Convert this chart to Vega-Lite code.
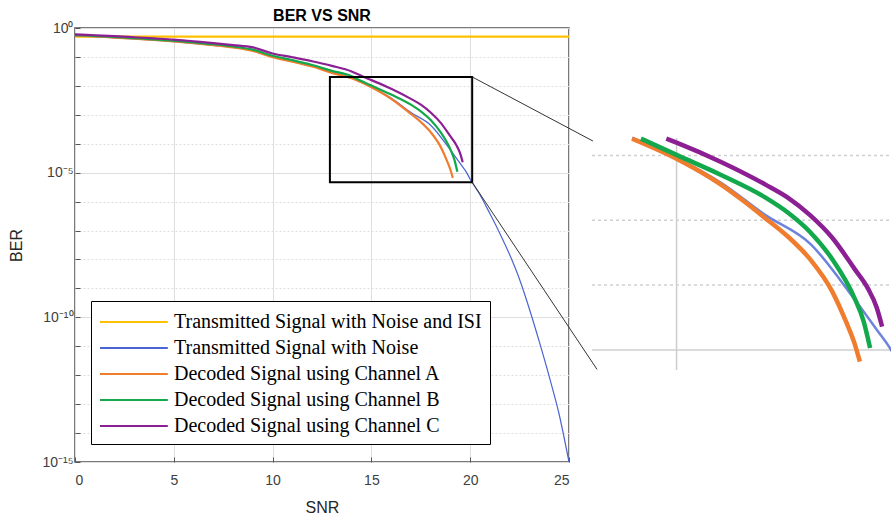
{
  "$schema": "https://vega.github.io/schema/vega-lite/v6.json",
  "autosize": "none",
  "width": 494,
  "height": 434,
  "padding": {"left": 75, "top": 28, "right": 322, "bottom": 56},
  "background": "white",
  "title": {"text": "BER VS SNR", "font": "Liberation Sans", "fontSize": 16, "fontWeight": "bold", "color": "#000000", "anchor": "middle", "frame": "group", "offset": -3},
  "config": {"view": {"stroke": "#4d4d4d", "strokeWidth": 1.5}},
  "datasets": {
    "curves": [
      {"snr": 0, "ber": 0.5, "series": "Transmitted Signal with Noise and ISI"},
      {"snr": 25, "ber": 0.5, "series": "Transmitted Signal with Noise and ISI"},
      {"snr": 0, "ber": 0.537, "series": "Transmitted Signal with Noise"},
      {"snr": 1, "ber": 0.501, "series": "Transmitted Signal with Noise"},
      {"snr": 2, "ber": 0.457, "series": "Transmitted Signal with Noise"},
      {"snr": 3, "ber": 0.417, "series": "Transmitted Signal with Noise"},
      {"snr": 4, "ber": 0.38, "series": "Transmitted Signal with Noise"},
      {"snr": 5, "ber": 0.339, "series": "Transmitted Signal with Noise"},
      {"snr": 6, "ber": 0.295, "series": "Transmitted Signal with Noise"},
      {"snr": 7, "ber": 0.251, "series": "Transmitted Signal with Noise"},
      {"snr": 8, "ber": 0.214, "series": "Transmitted Signal with Noise"},
      {"snr": 9, "ber": 0.166, "series": "Transmitted Signal with Noise"},
      {"snr": 10, "ber": 0.1, "series": "Transmitted Signal with Noise"},
      {"snr": 11, "ber": 0.0708, "series": "Transmitted Signal with Noise"},
      {"snr": 12, "ber": 0.049, "series": "Transmitted Signal with Noise"},
      {"snr": 13, "ber": 0.0309, "series": "Transmitted Signal with Noise"},
      {"snr": 14, "ber": 0.0186, "series": "Transmitted Signal with Noise"},
      {"snr": 15, "ber": 0.00912, "series": "Transmitted Signal with Noise"},
      {"snr": 16, "ber": 0.0038, "series": "Transmitted Signal with Noise"},
      {"snr": 17, "ber": 0.0012, "series": "Transmitted Signal with Noise"},
      {"snr": 18, "ber": 0.000437, "series": "Transmitted Signal with Noise"},
      {"snr": 19, "ber": 6.03e-5, "series": "Transmitted Signal with Noise"},
      {"snr": 19.5, "ber": 2.04e-5, "series": "Transmitted Signal with Noise"},
      {"snr": 19.82, "ber": 1e-5, "series": "Transmitted Signal with Noise"},
      {"snr": 20, "ber": 5.89e-6, "series": "Transmitted Signal with Noise"},
      {"snr": 20.5, "ber": 1.7e-6, "series": "Transmitted Signal with Noise"},
      {"snr": 21, "ber": 3.8e-7, "series": "Transmitted Signal with Noise"},
      {"snr": 21.5, "ber": 7.94e-8, "series": "Transmitted Signal with Noise"},
      {"snr": 22, "ber": 1.45e-8, "series": "Transmitted Signal with Noise"},
      {"snr": 22.5, "ber": 2.04e-9, "series": "Transmitted Signal with Noise"},
      {"snr": 23, "ber": 1.91e-10, "series": "Transmitted Signal with Noise"},
      {"snr": 23.5, "ber": 1.41e-11, "series": "Transmitted Signal with Noise"},
      {"snr": 24, "ber": 8.91e-13, "series": "Transmitted Signal with Noise"},
      {"snr": 24.5, "ber": 4.47e-14, "series": "Transmitted Signal with Noise"},
      {"snr": 25, "ber": 1e-15, "series": "Transmitted Signal with Noise"},
      {"snr": 0, "ber": 0.55, "series": "Decoded Signal using Channel A"},
      {"snr": 1, "ber": 0.513, "series": "Decoded Signal using Channel A"},
      {"snr": 2, "ber": 0.468, "series": "Decoded Signal using Channel A"},
      {"snr": 3, "ber": 0.427, "series": "Decoded Signal using Channel A"},
      {"snr": 4, "ber": 0.389, "series": "Decoded Signal using Channel A"},
      {"snr": 5, "ber": 0.347, "series": "Decoded Signal using Channel A"},
      {"snr": 6, "ber": 0.302, "series": "Decoded Signal using Channel A"},
      {"snr": 7, "ber": 0.257, "series": "Decoded Signal using Channel A"},
      {"snr": 8, "ber": 0.214, "series": "Decoded Signal using Channel A"},
      {"snr": 9, "ber": 0.162, "series": "Decoded Signal using Channel A"},
      {"snr": 10, "ber": 0.0977, "series": "Decoded Signal using Channel A"},
      {"snr": 11, "ber": 0.0692, "series": "Decoded Signal using Channel A"},
      {"snr": 12, "ber": 0.0468, "series": "Decoded Signal using Channel A"},
      {"snr": 13, "ber": 0.0282, "series": "Decoded Signal using Channel A"},
      {"snr": 14, "ber": 0.0182, "series": "Decoded Signal using Channel A"},
      {"snr": 15, "ber": 0.00891, "series": "Decoded Signal using Channel A"},
      {"snr": 16, "ber": 0.00355, "series": "Decoded Signal using Channel A"},
      {"snr": 16.5, "ber": 0.002, "series": "Decoded Signal using Channel A"},
      {"snr": 17, "ber": 0.00107, "series": "Decoded Signal using Channel A"},
      {"snr": 17.5, "ber": 0.000562, "series": "Decoded Signal using Channel A"},
      {"snr": 18, "ber": 0.000251, "series": "Decoded Signal using Channel A"},
      {"snr": 18.5, "ber": 7.94e-5, "series": "Decoded Signal using Channel A"},
      {"snr": 18.8, "ber": 2.82e-5, "series": "Decoded Signal using Channel A"},
      {"snr": 19, "ber": 1.26e-5, "series": "Decoded Signal using Channel A"},
      {"snr": 19.12, "ber": 6.61e-6, "series": "Decoded Signal using Channel A"},
      {"snr": 0, "ber": 0.575, "series": "Decoded Signal using Channel B"},
      {"snr": 1, "ber": 0.537, "series": "Decoded Signal using Channel B"},
      {"snr": 2, "ber": 0.49, "series": "Decoded Signal using Channel B"},
      {"snr": 3, "ber": 0.447, "series": "Decoded Signal using Channel B"},
      {"snr": 4, "ber": 0.407, "series": "Decoded Signal using Channel B"},
      {"snr": 5, "ber": 0.363, "series": "Decoded Signal using Channel B"},
      {"snr": 6, "ber": 0.316, "series": "Decoded Signal using Channel B"},
      {"snr": 7, "ber": 0.275, "series": "Decoded Signal using Channel B"},
      {"snr": 8, "ber": 0.229, "series": "Decoded Signal using Channel B"},
      {"snr": 9, "ber": 0.178, "series": "Decoded Signal using Channel B"},
      {"snr": 10, "ber": 0.11, "series": "Decoded Signal using Channel B"},
      {"snr": 11, "ber": 0.0776, "series": "Decoded Signal using Channel B"},
      {"snr": 12, "ber": 0.0525, "series": "Decoded Signal using Channel B"},
      {"snr": 13, "ber": 0.0331, "series": "Decoded Signal using Channel B"},
      {"snr": 14, "ber": 0.0214, "series": "Decoded Signal using Channel B"},
      {"snr": 14.2, "ber": 0.0182, "series": "Decoded Signal using Channel B"},
      {"snr": 15, "ber": 0.0102, "series": "Decoded Signal using Channel B"},
      {"snr": 16, "ber": 0.00501, "series": "Decoded Signal using Channel B"},
      {"snr": 17, "ber": 0.00224, "series": "Decoded Signal using Channel B"},
      {"snr": 17.5, "ber": 0.00132, "series": "Decoded Signal using Channel B"},
      {"snr": 18, "ber": 0.000661, "series": "Decoded Signal using Channel B"},
      {"snr": 18.5, "ber": 0.000251, "series": "Decoded Signal using Channel B"},
      {"snr": 19, "ber": 6.31e-5, "series": "Decoded Signal using Channel B"},
      {"snr": 19.2, "ber": 2.82e-5, "series": "Decoded Signal using Channel B"},
      {"snr": 19.35, "ber": 1.07e-5, "series": "Decoded Signal using Channel B"},
      {"snr": 0, "ber": 0.603, "series": "Decoded Signal using Channel C"},
      {"snr": 1, "ber": 0.562, "series": "Decoded Signal using Channel C"},
      {"snr": 2, "ber": 0.525, "series": "Decoded Signal using Channel C"},
      {"snr": 3, "ber": 0.479, "series": "Decoded Signal using Channel C"},
      {"snr": 4, "ber": 0.437, "series": "Decoded Signal using Channel C"},
      {"snr": 5, "ber": 0.398, "series": "Decoded Signal using Channel C"},
      {"snr": 6, "ber": 0.347, "series": "Decoded Signal using Channel C"},
      {"snr": 7, "ber": 0.302, "series": "Decoded Signal using Channel C"},
      {"snr": 8, "ber": 0.257, "series": "Decoded Signal using Channel C"},
      {"snr": 9, "ber": 0.214, "series": "Decoded Signal using Channel C"},
      {"snr": 10, "ber": 0.132, "series": "Decoded Signal using Channel C"},
      {"snr": 11, "ber": 0.0977, "series": "Decoded Signal using Channel C"},
      {"snr": 12, "ber": 0.0708, "series": "Decoded Signal using Channel C"},
      {"snr": 13, "ber": 0.049, "series": "Decoded Signal using Channel C"},
      {"snr": 14, "ber": 0.0316, "series": "Decoded Signal using Channel C"},
      {"snr": 14.77, "ber": 0.0182, "series": "Decoded Signal using Channel C"},
      {"snr": 15, "ber": 0.0158, "series": "Decoded Signal using Channel C"},
      {"snr": 16, "ber": 0.00794, "series": "Decoded Signal using Channel C"},
      {"snr": 17, "ber": 0.00355, "series": "Decoded Signal using Channel C"},
      {"snr": 17.5, "ber": 0.00224, "series": "Decoded Signal using Channel C"},
      {"snr": 18, "ber": 0.0012, "series": "Decoded Signal using Channel C"},
      {"snr": 18.5, "ber": 0.000537, "series": "Decoded Signal using Channel C"},
      {"snr": 19, "ber": 0.000178, "series": "Decoded Signal using Channel C"},
      {"snr": 19.3, "ber": 8.91e-5, "series": "Decoded Signal using Channel C"},
      {"snr": 19.5, "ber": 4.47e-5, "series": "Decoded Signal using Channel C"},
      {"snr": 19.62, "ber": 2.29e-5, "series": "Decoded Signal using Channel C"}
    ],
    "box": [{"snr": 12.9, "snr2": 20.1, "ber": 0.0204, "ber2": 4.68e-6}],
    "connectors": [
      {"snr": 20.1, "ber": 0.0204, "snr2": 26.21, "ber2": 1.24e-4},
      {"snr": 20.1, "ber": 4.68e-6, "snr2": 26.42, "ber2": 1.58e-12}
    ],
    "insetV": [{"snr": 15}],
    "insetH": [{"ber": 0.01}, {"ber": 0.001}, {"ber": 0.0001}, {"ber": 1e-5}]
  },
  "layer": [
    {
      "layer": [
        {
          "data": {"name": "curves"},
          "mark": {"type": "line", "interpolate": "monotone"},
          "encoding": {
            "x": {"field": "snr", "type": "quantitative",
              "scale": {"domain": [0, 25], "zero": false},
              "axis": {"values": [0, 5, 10, 15, 20, 25], "grid": true, "gridColor": "#dedede", "domain": false, "tickSize": -5, "tickColor": "#555555", "labelFont": "Liberation Sans", "labelFontSize": 14, "labelColor": "#404040", "labelPadding": 16, "title": "SNR", "titleFont": "Liberation Sans", "titleFontSize": 16, "titleFontWeight": "normal", "titleColor": "#262626", "titlePadding": 12}},
            "y": {"field": "ber", "type": "quantitative",
              "scale": {"type": "log", "domain": [1e-15, 1]},
              "axis": {"values": [1, 0.1, 0.01, 0.001, 0.0001, 1e-5, 1e-6, 1e-7, 1e-8, 1e-9, 1e-10, 1e-11, 1e-12, 1e-13, 1e-14, 1e-15],
                "labelExpr": "round(log(datum.value)/LN10) == 0 ? '10⁰' : round(log(datum.value)/LN10) == -5 ? '10⁻⁵' : round(log(datum.value)/LN10) == -10 ? '10⁻¹⁰' : round(log(datum.value)/LN10) == -15 ? '10⁻¹⁵' : ''",
                "grid": true, "gridColor": "#dedede",
                "gridDash": {"condition": {"test": "round(log(datum.value)/LN10) % 5 == 0", "value": []}, "value": [2, 2]},
                "domain": false, "tickSize": -5, "tickColor": "#555555", "labelFont": "Liberation Sans", "labelFontSize": 14, "labelColor": "#404040", "labelPadding": 7, "title": "BER", "titleFont": "Liberation Sans", "titleFontSize": 16, "titleFontWeight": "normal", "titleColor": "#262626", "titlePadding": 17}},
            "color": {"field": "series", "type": "nominal",
              "scale": {"domain": ["Transmitted Signal with Noise and ISI", "Transmitted Signal with Noise", "Decoded Signal using Channel A", "Decoded Signal using Channel B", "Decoded Signal using Channel C"],
                "range": ["#FFC000", "#4A64D2", "#F07C2E", "#12A84B", "#8B1F93"]},
              "legend": {"orient": "none", "legendX": 16, "legendY": 273, "title": null, "symbolType": "M-1,0H4.65", "symbolSize": 576, "symbolStrokeWidth": 2, "labelFont": "Liberation Serif", "labelFontSize": 20, "labelColor": "#000000", "labelOffset": 49, "labelLimit": 0, "padding": 8, "rowPadding": 3, "strokeColor": "#000000", "fillColor": "#ffffff"}},
            "strokeWidth": {"condition": {"test": "datum.series === 'Transmitted Signal with Noise'", "value": 1.2}, "value": 2.2}
          }
        },
        {
          "data": {"name": "box"},
          "mark": {"type": "rect", "fill": null, "fillOpacity": 0, "stroke": "#000000", "strokeWidth": 2},
          "encoding": {
            "x": {"field": "snr", "type": "quantitative", "scale": {"domain": [0, 25], "zero": false}},
            "x2": {"field": "snr2"},
            "y": {"field": "ber", "type": "quantitative", "scale": {"type": "log", "domain": [1e-15, 1]}},
            "y2": {"field": "ber2"}
          }
        },
        {
          "data": {"name": "connectors"},
          "mark": {"type": "rule", "stroke": "#333333", "strokeWidth": 1},
          "encoding": {
            "x": {"field": "snr", "type": "quantitative", "scale": {"domain": [0, 25], "zero": false}},
            "x2": {"field": "snr2"},
            "y": {"field": "ber", "type": "quantitative", "scale": {"type": "log", "domain": [1e-15, 1]}},
            "y2": {"field": "ber2"}
          }
        }
      ]
    },
    {
      "layer": [
        {
          "data": {"name": "insetV"},
          "mark": {"type": "rule", "stroke": "#cccccc", "strokeWidth": 1.5},
          "encoding": {
            "x": {"field": "snr", "type": "quantitative", "scale": {"domain": [13.1, 19.82], "range": [517, 816], "zero": false}, "axis": null},
            "y": {"datum": 0.0186, "type": "quantitative", "scale": {"type": "log", "domain": [4.9e-6, 0.0186], "range": [342, 110]}, "axis": null},
            "y2": {"datum": 4.9e-6}
          }
        },
        {
          "data": {"name": "insetH"},
          "mark": {"type": "rule", "stroke": "#cfcfcf", "strokeWidth": 1.5},
          "encoding": {
            "x": {"datum": 13.1, "type": "quantitative", "scale": {"domain": [13.1, 19.82], "range": [517, 816], "zero": false}, "axis": null},
            "x2": {"datum": 19.82},
            "y": {"field": "ber", "type": "quantitative", "scale": {"type": "log", "domain": [4.9e-6, 0.0186], "range": [342, 110]}, "axis": null},
            "strokeDash": {"condition": {"test": "datum.ber < 2e-5", "value": [1, 0]}, "value": [3, 3]}
          }
        },
        {
          "data": {"name": "curves"},
          "transform": [{"filter": "datum.ber <= 0.0186 && datum.snr <= 20.6"}],
          "mark": {"type": "line", "interpolate": "monotone"},
          "encoding": {
            "x": {"field": "snr", "type": "quantitative", "scale": {"domain": [13.1, 19.82], "range": [517, 816], "zero": false}, "axis": null},
            "y": {"field": "ber", "type": "quantitative", "scale": {"type": "log", "domain": [4.9e-6, 0.0186], "range": [342, 110]}, "axis": null},
            "color": {"field": "series", "type": "nominal"},
            "strokeWidth": {"condition": {"test": "datum.series === 'Transmitted Signal with Noise'", "value": 2.5}, "value": 4.5},
            "opacity": {"condition": {"test": "datum.series === 'Transmitted Signal with Noise'", "value": 0.8}, "value": 1}
          }
        }
      ]
    }
  ],
  "resolve": {"scale": {"x": "independent", "y": "independent"}}
}
